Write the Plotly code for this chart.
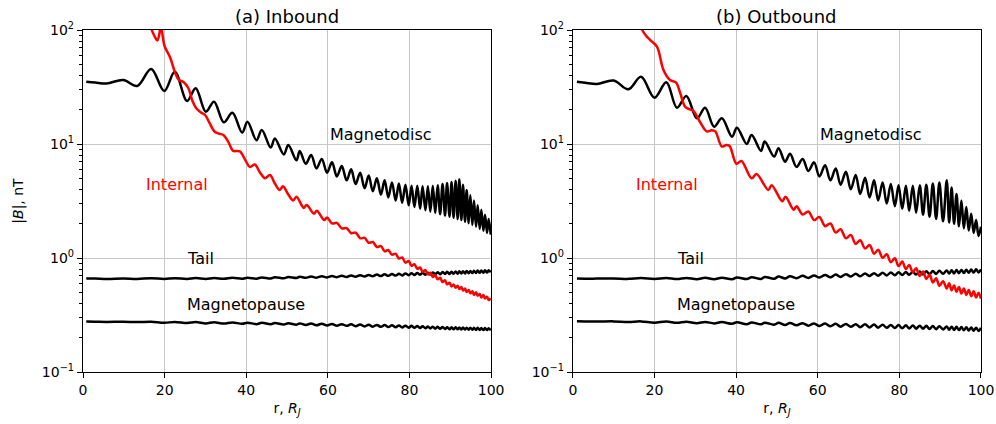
import math
import plotly.graph_objects as go

# ---------------- data ----------------
# Inbound: radial positions of the wiggle extrema (shared by disc/tail/magnetopause)
r_in = [0.8, 3.0, 5.8, 9.9, 13.3,
        16.7, 19.9, 22.5, 25.5, 27.6, 30.1, 32.1, 34.5, 36.6, 39.0,
        40.3, 42.5, 43.8, 46.0, 47.0, 49.2, 50.3, 52.3, 53.1, 54.6,
        55.9, 57.2, 58.5, 59.8, 61.0, 62.2, 63.4, 64.6, 65.7, 66.8,
        67.9, 69.0, 70.0, 71.0, 72.0, 73.0, 73.9, 74.8, 75.7, 76.6,
        77.4, 78.2, 79.0, 79.8, 80.5, 81.2, 81.9, 82.6, 83.2, 83.9,
        84.5, 85.1, 85.7, 86.3, 86.9, 87.5, 88.1, 88.7, 89.2, 89.8,
        90.3, 90.8, 91.3, 91.8, 92.2, 92.7, 93.1, 93.6, 94.0, 94.5,
        94.9, 95.4, 95.8, 96.3, 96.7, 97.2, 97.6, 98.1, 98.5, 99.0,
        99.4, 99.9]

disc_in = [35.2, 34.6, 34.0, 36.4, 32.3,
           45.5, 29.2, 43.0, 23.8, 30.8, 19.2, 23.5, 15.5, 18.8, 12.6,
           15.7, 10.8, 13.3, 9.3, 11.2, 8.1, 9.8, 7.2, 8.7, 6.7,
           8.0, 6.1, 7.4, 5.6, 6.9, 5.2, 6.4, 4.8, 6.0, 4.45,
           5.6, 4.1, 5.3, 3.85, 5.0, 3.6, 4.8, 3.4, 4.6, 3.2,
           4.5, 3.05, 4.4, 2.9, 4.3, 2.8, 4.3, 2.7, 4.25, 2.62,
           4.25, 2.55, 4.3, 2.48, 4.35, 2.42, 4.45, 2.36, 4.55, 2.3,
           4.65, 2.25, 4.75, 2.2, 4.9, 2.15, 4.4, 2.08, 3.95, 2.02,
           3.55, 1.95, 3.2, 1.88, 2.9, 1.8, 2.65, 1.73, 2.4, 1.66,
           2.2, 1.6]

tail_in = [0.66, 0.66, 0.655, 0.66, 0.655,
           0.665, 0.655, 0.665, 0.655, 0.667, 0.655, 0.668, 0.656, 0.670, 0.657,
           0.672, 0.659, 0.675, 0.661, 0.678, 0.664, 0.681, 0.667, 0.684, 0.670,
           0.688, 0.672, 0.692, 0.676, 0.696, 0.679, 0.699, 0.682, 0.703, 0.685,
           0.707, 0.688, 0.711, 0.692, 0.715, 0.695, 0.719, 0.698, 0.723, 0.701,
           0.727, 0.704, 0.731, 0.707, 0.735, 0.710, 0.738, 0.712, 0.741, 0.714,
           0.744, 0.716, 0.747, 0.718, 0.750, 0.720, 0.753, 0.723, 0.756, 0.725,
           0.759, 0.727, 0.762, 0.729, 0.765, 0.731, 0.767, 0.733, 0.769, 0.735,
           0.771, 0.737, 0.773, 0.739, 0.775, 0.741, 0.777, 0.743, 0.779, 0.745,
           0.781, 0.747]

mp_in = [0.277, 0.276, 0.275, 0.276, 0.274,
         0.276, 0.270, 0.275, 0.269, 0.274, 0.267, 0.273, 0.266, 0.272, 0.265,
         0.271, 0.263, 0.270, 0.262, 0.269, 0.261, 0.268, 0.260, 0.267, 0.259,
         0.266, 0.257, 0.265, 0.256, 0.264, 0.255, 0.263, 0.254, 0.262, 0.252,
         0.261, 0.251, 0.260, 0.250, 0.259, 0.249, 0.258, 0.248, 0.257, 0.247,
         0.256, 0.246, 0.255, 0.245, 0.254, 0.244, 0.253, 0.243, 0.252, 0.242,
         0.251, 0.241, 0.250, 0.240, 0.249, 0.239, 0.248, 0.238, 0.247, 0.237,
         0.247, 0.237, 0.247, 0.237, 0.246, 0.236, 0.246, 0.236, 0.245, 0.235,
         0.245, 0.235, 0.244, 0.234, 0.244, 0.234, 0.243, 0.233, 0.243, 0.233,
         0.242, 0.232]

red_in_r = [13.5, 15.5, 16.6, 17.4, 18.2, 18.7, 19.05, 19.4, 20.0, 21.3,
            22.6, 23.5, 24.6, 25.8, 26.8, 27.8, 29.0, 29.9, 31.0, 32.3,
            33.4, 34.4, 35.5, 36.8, 37.7, 38.5, 39.7, 40.9, 42.1, 43.4,
            44.6, 45.8, 47.0, 48.2, 49.0, 50.3, 51.5, 52.3, 54.1, 54.8,
            56.6, 57.3, 59.1, 59.8,
            61.0, 62.2, 63.4, 64.6, 65.7, 66.8, 67.9, 69.0, 70.0, 71.0,
            72.0, 73.0, 73.9, 74.8, 75.7, 76.6, 77.4, 78.2, 79.0, 79.8,
            80.5, 81.2, 81.9, 82.6, 83.2, 83.9, 84.5, 85.1, 85.7, 86.3,
            86.9, 87.5, 88.1, 88.7, 89.2, 89.8, 90.3, 90.8, 91.3, 91.8,
            92.2, 92.7, 93.1, 93.6, 94.0, 94.5, 94.9, 95.4, 95.8, 96.3,
            96.7, 97.2, 97.6, 98.1, 98.5, 99.0, 99.4, 99.9]

red_in = [300, 150, 106, 90, 81, 92, 112, 95, 72, 58,
          42, 36.5, 35, 31, 24, 20.5, 18.8, 18.0, 15.3, 12.8,
          12.3, 12.0, 10.6, 8.7, 8.7, 8.6, 7.3, 6.3, 6.6, 5.6,
          5.0, 5.35, 4.5, 3.95, 4.25, 3.6, 3.2, 3.45, 2.75, 2.92,
          2.45, 2.6, 2.15, 2.27,
          2.01, 2.03, 1.82, 1.83, 1.65, 1.67, 1.49, 1.50, 1.36, 1.38,
          1.25, 1.27, 1.145, 1.175, 1.07, 1.09, 0.99, 1.01, 0.91, 0.94,
          0.855, 0.88, 0.805, 0.825, 0.757, 0.783, 0.718, 0.742, 0.68, 0.705,
          0.65, 0.67, 0.616, 0.639, 0.587, 0.608, 0.563, 0.587, 0.548, 0.572,
          0.534, 0.556, 0.519, 0.541, 0.504, 0.525, 0.49, 0.51, 0.475, 0.5,
          0.466, 0.484, 0.451, 0.474, 0.441, 0.458, 0.427, 0.443]

# Outbound
r_out = [1.0, 3.0, 5.9, 10.0, 13.6,
         16.7, 20.0, 22.9, 25.5, 27.8, 30.4, 32.4, 34.6, 36.5, 39.0,
         40.2, 42.6, 43.8, 46.1, 47.0, 49.3, 50.4, 52.0, 53.2, 54.8,
         56.3, 57.7, 59.1, 60.4, 61.8, 63.1, 64.4, 65.6, 66.9, 68.1,
         69.3, 70.4, 71.6, 72.7, 73.8, 74.8, 75.9, 76.9, 77.9, 78.9,
         79.8, 80.7, 81.6, 82.4, 83.3, 84.1, 85.0, 85.8, 86.6, 87.4,
         88.2, 89.0, 89.8, 90.7, 91.6, 92.2, 92.8, 93.4, 94.0, 94.6,
         95.2, 95.8, 96.4, 97.0, 97.6, 98.2, 98.8, 99.4, 100.0]

disc_out = [35.2, 34.5, 33.6, 36.0, 30.2,
            38.9, 25.5, 34.8, 20.8, 26.4, 16.8, 20.8, 14.2, 16.8, 11.6,
            13.9, 10.0, 12.0, 8.7, 10.5, 7.75, 9.2, 7.0, 8.2, 6.3,
            7.4, 5.8, 6.9, 5.2, 6.5, 4.8, 6.1, 4.4, 5.7, 4.0,
            5.35, 3.65, 5.05, 3.4, 4.8, 3.2, 4.6, 3.0, 4.45, 2.85,
            4.35, 2.7, 4.3, 2.6, 4.3, 2.5, 4.35, 2.4, 4.4, 2.3,
            4.5, 2.2, 4.6, 2.1, 4.8, 2.05, 4.15, 2.0, 3.65, 1.9,
            3.2, 1.82, 2.8, 1.74, 2.45, 1.66, 2.15, 1.56, 1.88]

tail_out = [0.66, 0.658, 0.66, 0.662, 0.656,
            0.666, 0.654, 0.667, 0.653, 0.668, 0.652, 0.670, 0.652, 0.672, 0.652,
            0.675, 0.653, 0.678, 0.655, 0.682, 0.658, 0.687, 0.662, 0.691, 0.665,
            0.697, 0.669, 0.703, 0.674, 0.709, 0.678, 0.715, 0.683, 0.721, 0.688,
            0.727, 0.692, 0.732, 0.696, 0.736, 0.700, 0.741, 0.703, 0.745, 0.706,
            0.749, 0.709, 0.753, 0.712, 0.757, 0.715, 0.761, 0.718, 0.765, 0.721,
            0.769, 0.724, 0.773, 0.727, 0.777, 0.730, 0.780, 0.733, 0.783, 0.736,
            0.786, 0.739, 0.789, 0.742, 0.792, 0.745, 0.795, 0.748, 0.797]

mp_out = [0.279, 0.278, 0.277, 0.278, 0.275,
          0.278, 0.271, 0.277, 0.270, 0.276, 0.268, 0.275, 0.267, 0.274, 0.265,
          0.273, 0.263, 0.272, 0.262, 0.271, 0.260, 0.270, 0.258, 0.269, 0.257,
          0.268, 0.255, 0.267, 0.253, 0.266, 0.252, 0.265, 0.250, 0.264, 0.249,
          0.263, 0.247, 0.262, 0.246, 0.261, 0.245, 0.260, 0.244, 0.259, 0.243,
          0.258, 0.242, 0.257, 0.241, 0.256, 0.240, 0.255, 0.239, 0.254, 0.238,
          0.253, 0.237, 0.252, 0.236, 0.251, 0.235, 0.250, 0.234, 0.249, 0.233,
          0.248, 0.232, 0.247, 0.231, 0.246, 0.230, 0.245, 0.229, 0.244]

red_out_r = [14.5, 16.0, 17.2, 18.2, 18.95, 20.6, 22.2, 23.8, 25.3, 26.3,
             27.5, 28.5, 29.5, 31.2, 32.8, 34.0, 34.9, 36.5, 37.6, 38.4,
             40.1, 41.3, 43.8, 45.0, 47.9, 48.7, 51.3, 52.1, 54.1, 54.8,
             56.3, 57.7, 59.1, 60.4, 61.8, 63.1, 64.4, 65.6, 66.9, 68.1,
             69.3, 70.4, 71.6, 72.7, 73.8, 74.8, 75.9, 76.9, 77.9, 78.9,
             79.8, 80.7, 81.6, 82.4, 83.3, 84.1, 85.0, 85.8, 86.6, 87.4,
             88.2, 89.0, 89.8, 90.7, 91.6, 92.2, 92.8, 93.4, 94.0, 94.6,
             95.2, 95.8, 96.4, 97.0, 97.6, 98.2, 98.8, 99.4, 100.0]

red_out = [250, 130, 97, 87, 81.7, 71.4, 44.6, 36.4, 34.5, 28,
           21.2, 20.2, 19.6, 15.5, 12.9, 13.2, 12.9, 9.5, 9.8, 9.6,
           6.7, 7.1, 5.0, 5.45, 3.95, 4.35, 3.15, 3.45, 2.65, 2.85,
           2.41, 2.56, 2.15, 2.29, 1.9, 2.01, 1.67, 1.79, 1.49, 1.59,
           1.33, 1.43, 1.21, 1.30, 1.09, 1.18, 1.005, 1.08, 0.92, 0.995,
           0.85, 0.93, 0.80, 0.87, 0.75, 0.815, 0.695, 0.76, 0.655, 0.715,
           0.61, 0.665, 0.57, 0.625, 0.54, 0.6, 0.52, 0.575, 0.505, 0.557,
           0.488, 0.54, 0.474, 0.525, 0.462, 0.51, 0.45, 0.495, 0.44]

x_ticks = [0, 20, 40, 60, 80, 100]
y_ticks = [0.1, 1, 10, 100]
y_ticktext = ["10<sup>−1</sup>", "10<sup>0</sup>", "10<sup>1</sup>", "10<sup>2</sup>"]
y_minor = [m * 10.0 ** e for e in (-1, 0, 1) for m in range(2, 10)]
panel_titles = ["(a) Inbound", "(b) Outbound"]

# ---------------- figure ----------------
FONT = "DejaVu Sans"
fig = go.Figure()


def add_panel(xa, ya, r_grid, disc, tail, mp, rr, rb):
    common = dict(mode="lines", showlegend=False, hoverinfo="skip", xaxis=xa, yaxis=ya)
    for vals in (disc, tail, mp):
        fig.add_trace(go.Scatter(x=r_grid, y=vals,
                                 line=dict(color="black", width=2.5, shape="spline", smoothing=1.0),
                                 **common))
    fig.add_trace(go.Scatter(x=rr, y=rb,
                             line=dict(color="#ff0000", width=2.5, shape="spline", smoothing=1.0),
                             **common))


add_panel("x", "y", r_in, disc_in, tail_in, mp_in, red_in_r, red_in)
add_panel("x2", "y2", r_out, disc_out, tail_out, mp_out, red_out_r, red_out)

axis_common = dict(showline=True, linecolor="black", linewidth=1.2, mirror=True,
                   ticks="outside", ticklen=5, tickwidth=1, tickcolor="black",
                   showgrid=True, gridcolor="#c8c8c8", gridwidth=1.2, zeroline=False,
                   automargin=False,
                   tickfont=dict(family=FONT, size=14, color="black"))

xax = dict(range=[0, 100], tickvals=x_ticks,
           title=dict(text="r, <i>R<sub>J</sub></i>", standoff=6,
                      font=dict(family=FONT, size=14, color="black")),
           **axis_common)
yax = dict(type="log", range=[-1, 2], tickvals=y_ticks, ticktext=y_ticktext,
           minor=dict(tickvals=y_minor, ticks="outside", ticklen=3, tickwidth=1,
                      tickcolor="black", showgrid=False),
           **axis_common)

fig.update_layout(
    width=996, height=424,
    margin=dict(l=83, r=15.4, t=30, b=52, autoexpand=False),
    paper_bgcolor="white", plot_bgcolor="white",
    font=dict(family=FONT, size=14, color="black"),
    xaxis=dict(domain=[0, 0.4545], anchor="y", **xax),
    xaxis2=dict(domain=[0.5455, 1], anchor="y2", **xax),
    yaxis=dict(domain=[0, 1], anchor="x",
               title=dict(text="|<i>B</i>|, nT", standoff=14,
                          font=dict(family=FONT, size=14, color="black")),
               **yax),
    yaxis2=dict(domain=[0, 1], anchor="x2", **yax),
)

ann = []
for i, (xr, yr) in enumerate((("x", "y"), ("x2", "y2"))):
    ann.append(dict(text=panel_titles[i], xref=f"{xr} domain", yref=f"{yr} domain",
                    x=0.5, y=1, xanchor="center", yanchor="bottom", yshift=1,
                    showarrow=False, font=dict(family=FONT, size=18, color="black")))
    for txt, xv, yv, col in (("Magnetodisc", 60, 12.2, "black"),
                             ("Internal", 15, 4.4, "#ff0000"),
                             ("Tail", 25, 1.0, "black"),
                             ("Magnetopause", 25, 0.39, "black")):
        ann.append(dict(text=txt, xref=xr, yref=yr, x=xv, y=math.log10(yv),
                        xanchor="left", yanchor="middle", showarrow=False,
                        font=dict(family=FONT, size=16, color=col)))
fig.update_layout(annotations=ann)

fig.write_html("out.html")
